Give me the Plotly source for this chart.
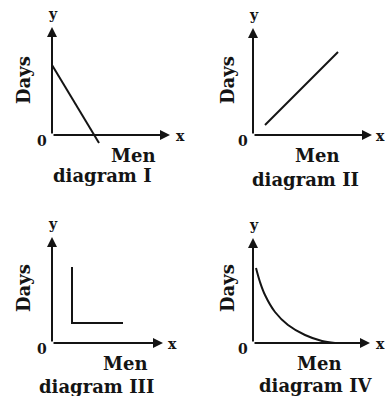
import plotly.graph_objects as go

# diagram I: days fall in a straight line as men increase
men_1 = [0.0, 4.7]
days_1 = [7.0, -0.8]

# diagram II: straight line rising
men_2 = [1.2, 8.5]
days_2 = [1.0, 8.3]

# diagram III: L shape
men_3 = [2.0, 2.0, 7.1]
days_3 = [7.6, 2.0, 2.0]

# diagram IV: decreasing curve
men_4 = [0.3, 0.7, 1.2, 2.2, 3.5, 5.2, 6.9, 8.2]
days_4 = [7.5, 6.1, 4.8, 3.1, 1.8, 0.8, 0.2, 0.0]

titles = ["diagram I", "diagram II", "diagram III", "diagram IV"]

W, H = 385, 396
PX = 10.0  # pixels per data unit
ink = "#141414"
font = dict(family="DejaVu Serif", size=18, color=ink)

# origin pixel, quadrant corner, arrow ends, label offsets (data units)
panels = [
    dict(o=(52, 135), q=(0, 0), xe=11.8, ye=10.8, x_lab=12.8, men=(8.1, -2.0), dg=(5.0, -4.0), days=-2.9),
    dict(o=(253, 135), q=(192.5, 0), xe=11.9, ye=10.7, x_lab=12.7, men=(6.4, -2.0), dg=(5.2, -4.4), days=-2.6),
    dict(o=(52, 343), q=(0, 198), xe=11.1, ye=10.6, x_lab=12.0, men=(7.3, -2.0), dg=(4.4, -4.3), days=-2.9),
    dict(o=(253, 343), q=(192.5, 198), xe=11.7, ye=10.5, x_lab=12.7, men=(6.6, -2.0), dg=(6.3, -4.2), days=-2.6),
]
series = [(men_1, days_1), (men_2, days_2), (men_3, days_3), (men_4, days_4)]

fig = go.Figure()
annotations = []
layout = {}

for i, (p, (mx, dy)) in enumerate(zip(panels, series)):
    n = "" if i == 0 else str(i + 1)
    xa, ya = "x" + n, "y" + n
    ox, oy = p["o"]
    qx, qy = p["q"]
    layout["xaxis" + n] = dict(
        domain=[qx / W, (qx + 192.5) / W],
        range=[(qx - ox) / PX, (qx + 192.5 - ox) / PX],
        visible=False, fixedrange=True, anchor=ya,
    )
    layout["yaxis" + n] = dict(
        domain=[1 - (qy + 198) / H, 1 - qy / H],
        range=[(oy - qy - 198) / PX, (oy - qy) / PX],
        visible=False, fixedrange=True, anchor=xa,
    )
    fig.add_trace(go.Scatter(
        x=mx, y=dy, mode="lines", xaxis=xa, yaxis=ya,
        line=dict(color=ink, width=2, shape="spline" if i == 3 else "linear"),
        showlegend=False, hoverinfo="skip",
    ))
    # axes with arrows
    for hx, hy in [(p["xe"], 0), (0, p["ye"])]:
        annotations.append(dict(
            x=hx, y=hy, ax=0, ay=0, xref=xa, yref=ya, axref=xa, ayref=ya,
            text="", showarrow=True, arrowhead=2, arrowsize=1, arrowwidth=2,
            arrowcolor=ink, standoff=0,
        ))
    small = dict(font=dict(font, size=14), showarrow=False, xref=xa, yref=ya)
    annotations += [
        dict(small, x=0.1, y=p["ye"] + 1.3, text="<b>y</b>"),
        dict(small, x=p["x_lab"], y=-0.1, text="<b>x</b>"),
        dict(small, x=-1.0, y=-0.6, text="<b>0</b>"),
        dict(x=p["days"], y=5.5, text="<b>Days</b>", textangle=-90,
             font=font, showarrow=False, xref=xa, yref=ya),
        dict(x=p["men"][0], y=p["men"][1], text="<b>Men</b>",
             font=font, showarrow=False, xref=xa, yref=ya),
        dict(x=p["dg"][0], y=p["dg"][1], text="<b>" + titles[i] + "</b>",
             font=font, showarrow=False, xref=xa, yref=ya),
    ]

fig.update_layout(
    width=W, height=H, margin=dict(l=0, r=0, t=0, b=0),
    paper_bgcolor="white", plot_bgcolor="white",
    annotations=annotations, **layout,
)
# drop the page's default body margin so the figure sits at the window corner
fig.write_html("out.html", config={"displayModeBar": False},
               post_script="document.body.style.margin='0';")
